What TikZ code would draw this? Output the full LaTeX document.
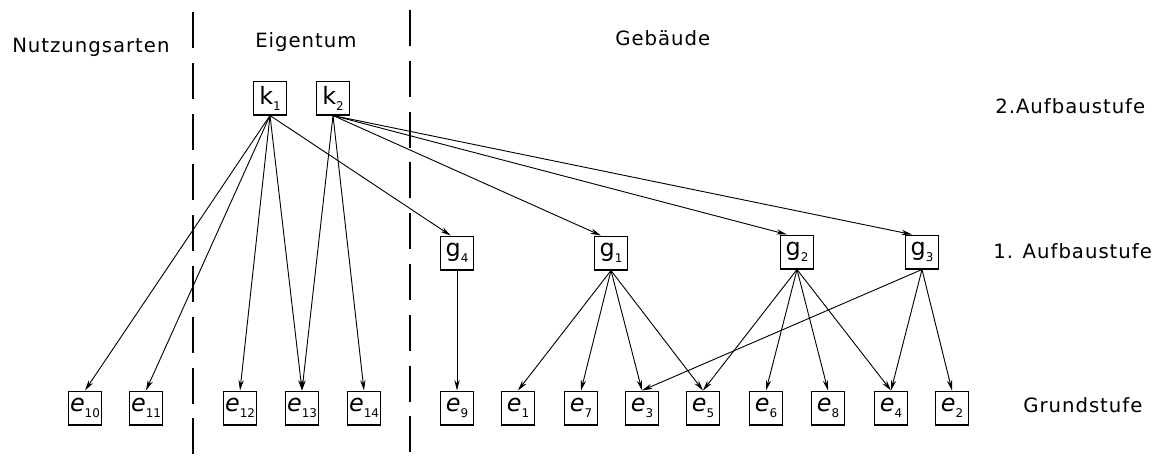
\documentclass[tikz,border=0pt]{standalone}
\usepackage{fontspec}
\setmainfont{DejaVu Sans}
\newfontfamily\sperrfont{DejaVu Sans}[LetterSpace=5]
\usetikzlibrary{arrows.meta}
\newcommand\tief[1]{\raisebox{-0.45ex}{\fontsize{8.5}{8.5}\selectfont #1}}

\tikzset{
  kasten/.style={draw, line width=1pt, minimum width=0.82cm, minimum height=0.84cm,
    inner sep=0pt, font=\fontsize{17}{17}\selectfont},
  pfeil/.style={line width=0.65pt, -{Stealth[length=7.5pt,width=3.8pt]}},
  titel/.style={anchor=base west, inner sep=0pt, font=\sperrfont\fontsize{14}{16}\selectfont},
  trenn/.style={line width=0.75pt, dash pattern=on 0.9cm off 0.37cm}
}

\begin{document}
\begin{tikzpicture}
  \useasboundingbox (0,0) rectangle (29,-11.475);

  % Trennlinien
  \draw[trenn] (4.825,-0.3) -- (4.825,-11.475);
  \draw[trenn] (10.25,-0.25) -- (10.25,-11.475);

  % Ueberschriften und Stufen
  \node[titel] (nutzung) at (0.3,-1.3) {Nutzungsarten};
  \node[titel] (eigentum) at (6.375,-1.18) {Eigentum};
  \node[titel] (gebaeude) at (15.375,-1.125) {Gebäude};
  \node[titel] (stufe2) at (24.875,-2.825) {2.Aufbaustufe};
  \node[titel] (stufe1) at (24.825,-6.45) {1. Aufbaustufe};
  \node[titel] (stufe0) at (25.575,-10.3) {Grundstufe};

  % 2. Aufbaustufe
  \node[kasten] (k1) at (6.75,-2.45) {k\tief{1}};
  \node[kasten] (k2) at (8.325,-2.45) {k\tief{2}};

  % 1. Aufbaustufe
  \node[kasten] (g4) at (11.425,-6.325) {g\tief{4}};
  \node[kasten] (g1) at (15.275,-6.325) {g\tief{1}};
  \node[kasten] (g2) at (19.925,-6.3) {g\tief{2}};
  \node[kasten] (g3) at (23.05,-6.3) {g\tief{3}};

  % Grundstufe
  \node[kasten] (e10) at (2.125,-10.2) {\textit{e}\tief{10}};
  \node[kasten] (e11) at (3.65,-10.2) {\textit{e}\tief{11}};
  \node[kasten] (e12) at (6.0,-10.2) {\textit{e}\tief{12}};
  \node[kasten] (e13) at (7.55,-10.2) {\textit{e}\tief{13}};
  \node[kasten] (e14) at (9.1,-10.2) {\textit{e}\tief{14}};
  \node[kasten] (e9) at (11.425,-10.2) {\textit{e}\tief{9}};
  \node[kasten] (e1) at (12.95,-10.2) {\textit{e}\tief{1}};
  \node[kasten] (e7) at (14.525,-10.2) {\textit{e}\tief{7}};
  \node[kasten] (e3) at (16.05,-10.2) {\textit{e}\tief{3}};
  \node[kasten] (e5) at (17.575,-10.2) {\textit{e}\tief{5}};
  \node[kasten] (e6) at (19.15,-10.2) {\textit{e}\tief{6}};
  \node[kasten] (e8) at (20.7,-10.2) {\textit{e}\tief{8}};
  \node[kasten] (e4) at (22.275,-10.2) {\textit{e}\tief{4}};
  \node[kasten] (e2) at (23.8,-10.2) {\textit{e}\tief{2}};

  % Verbindungen von k1 und k2
  \draw[pfeil] (k1.south) -- (e10.north);
  \draw[pfeil] (k1.south) -- (e11.north);
  \draw[pfeil] (k1.south) -- (e12.north);
  \draw[pfeil] (k1.south) -- (e13.north);
  \draw[pfeil] (k1.south) -- (g4.110);
  \draw[pfeil] (k2.south) -- (e13.north);
  \draw[pfeil] (k2.south) -- (e14.north);
  \draw[pfeil] (k2.south) -- (g1.120);
  \draw[pfeil] (k2.south) -- (g2.120);
  \draw[pfeil] (k2.south) -- (g3.120);

  % Verbindungen der Gebaeude
  \draw[pfeil] (g4.south) -- (e9.north);
  \draw[pfeil] (g1.south) -- (e1.north);
  \draw[pfeil] (g1.south) -- (e7.north);
  \draw[pfeil] (g1.south) -- (e3.north);
  \draw[pfeil] (g1.south) -- (e5.north);
  \draw[pfeil] (g2.south) -- (e5.north);
  \draw[pfeil] (g2.south) -- (e6.north);
  \draw[pfeil] (g2.south) -- (e8.north);
  \draw[pfeil] (g2.south) -- (e4.north);
  \draw[pfeil] (g3.south) -- (e3.north);
  \draw[pfeil] (g3.south) -- (e4.north);
  \draw[pfeil] (g3.south) -- (e2.north);
\end{tikzpicture}
\end{document}
